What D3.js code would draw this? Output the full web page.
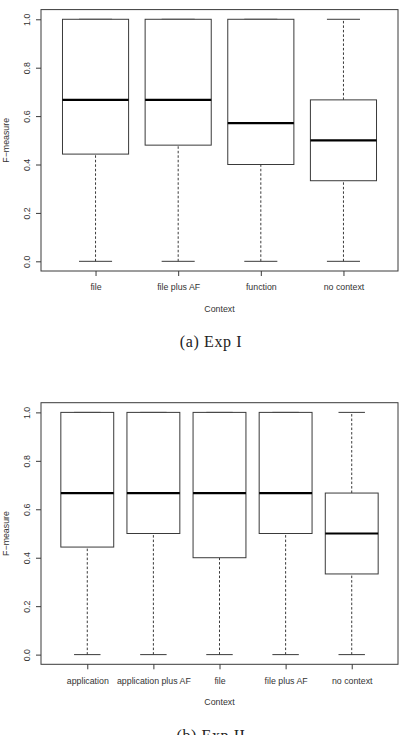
<!DOCTYPE html>
<html lang="en">
  <head>
    <meta charset="utf-8">
    <style>
      body { margin: 0; background: #fff; }
      svg { display: block; }
      .frame { fill: none; stroke: #3a3a3a; stroke-width: 1; }
      .box { fill: #fff; stroke: #3a3a3a; stroke-width: 1; }
      .median { stroke: #000; stroke-width: 2.2; }
      .whisker { stroke: #3a3a3a; stroke-width: 1; stroke-dasharray: 2.5,2; }
      .staple { stroke: #3a3a3a; stroke-width: 1; }
      .axis { color: #3a3a3a; }
      .axis path { display: none; }
      .axis text { font-family: "Liberation Sans", Arial, sans-serif; font-size: 8.8px; fill: #333; }
      .lab { font-family: "Liberation Sans", Arial, sans-serif; font-size: 8.8px; fill: #333; }
      .caption { font-family: "Liberation Serif", "DejaVu Serif", serif; font-size: 16px; letter-spacing: 0.6px; fill: #222; }
    </style>
  </head>
  <body>
  <script src="https://d3js.org/d3.v7.min.js"></script>
  <script>
  var width = 402;
  var height = 735;

  // Exp I
  var exp1Contexts = ["file", "file plus AF", "function", "no context"];
  var exp1Min    = [0, 0, 0, 0];
  var exp1Lower  = [0.443, 0.48, 0.40, 0.333];
  var exp1Median = [0.667, 0.667, 0.571, 0.5];
  var exp1Upper  = [1, 1, 1, 0.667];
  var exp1Max    = [1, 1, 1, 1];

  // Exp II
  var exp2Contexts = ["application", "application plus AF", "file", "file plus AF", "no context"];
  var exp2Min    = [0, 0, 0, 0, 0];
  var exp2Lower  = [0.444, 0.5, 0.40, 0.5, 0.333];
  var exp2Median = [0.667, 0.667, 0.667, 0.667, 0.5];
  var exp2Upper  = [1, 1, 1, 1, 0.667];
  var exp2Max    = [1, 1, 1, 1, 1];

  var yTicks = [0, 0.2, 0.4, 0.6, 0.8, 1.0];

  var svg = d3.select("body")
    .append("svg")
    .attr("width", width)
    .attr("height", height);

  function boxplot(top, bottom, contexts, mins, lowers, medians, uppers, maxs, caption, captionY) {
    var n = contexts.length;
    var left = 41, right = 398;
    var ext = n * 0.04;
    var x = d3.scaleLinear()
      .domain([0.5 - ext, n + 0.5 + ext])
      .range([left, right]);
    var y = d3.scaleLinear()
      .domain([-0.04, 1.04])
      .range([bottom, top]);

    var boxW = (x(1) - x(0)) * 0.8;
    var g = svg.append("g");

    var rows = contexts.map(function(c, i) {
      return { c: c, i: i + 1, min: mins[i], lo: lowers[i], med: medians[i], up: uppers[i], max: maxs[i] };
    });

    // whiskers
    g.selectAll(".wlo").data(rows).enter().append("line")
      .attr("class", "whisker")
      .attr("x1", function(d) { return x(d.i); })
      .attr("x2", function(d) { return x(d.i); })
      .attr("y1", function(d) { return y(d.min); })
      .attr("y2", function(d) { return y(d.lo); });
    g.selectAll(".whi").data(rows.filter(function(d) { return d.max > d.up; })).enter().append("line")
      .attr("class", "whisker")
      .attr("x1", function(d) { return x(d.i); })
      .attr("x2", function(d) { return x(d.i); })
      .attr("y1", function(d) { return y(d.up); })
      .attr("y2", function(d) { return y(d.max); });

    // staples
    ["min", "max"].forEach(function(k) {
      g.selectAll(".st-" + k).data(rows).enter().append("line")
        .attr("class", "staple")
        .attr("x1", function(d) { return x(d.i) - boxW / 4; })
        .attr("x2", function(d) { return x(d.i) + boxW / 4; })
        .attr("y1", function(d) { return y(d[k]); })
        .attr("y2", function(d) { return y(d[k]); });
    });

    // boxes
    g.selectAll(".box").data(rows).enter().append("rect")
      .attr("class", "box")
      .attr("x", function(d) { return x(d.i) - boxW / 2; })
      .attr("width", boxW)
      .attr("y", function(d) { return y(d.up); })
      .attr("height", function(d) { return y(d.lo) - y(d.up); });

    g.selectAll(".median").data(rows).enter().append("line")
      .attr("class", "median")
      .attr("x1", function(d) { return x(d.i) - boxW / 2; })
      .attr("x2", function(d) { return x(d.i) + boxW / 2; })
      .attr("y1", function(d) { return y(d.med); })
      .attr("y2", function(d) { return y(d.med); });

    // frame
    g.append("rect")
      .attr("class", "frame")
      .attr("x", left).attr("y", top)
      .attr("width", right - left).attr("height", bottom - top);

    // y axis, labels turned like R's las=0
    var ya = g.append("g")
      .attr("class", "axis")
      .attr("transform", "translate(" + left + ",0)")
      .call(d3.axisLeft(y).tickValues(yTicks).tickSize(5).tickPadding(0).tickFormat(d3.format(".1f")));
    ya.selectAll("text")
      .attr("x", null).attr("dy", null).attr("y", null)
      .attr("text-anchor", "middle")
      .attr("transform", "translate(-11,0) rotate(-90)");

    // x axis
    g.append("g")
      .attr("class", "axis")
      .attr("transform", "translate(0," + bottom + ")")
      .call(d3.axisBottom(x).tickValues(d3.range(1, n + 1)).tickSize(5).tickPadding(8)
        .tickFormat(function(d) { return contexts[d - 1]; }));

    g.append("text")
      .attr("class", "lab")
      .attr("x", (left + right) / 2)
      .attr("y", bottom + 41)
      .attr("text-anchor", "middle")
      .text("Context");

    g.append("text")
      .attr("class", "lab")
      .attr("transform", "translate(9," + (top + bottom) / 2 + ") rotate(-90)")
      .attr("text-anchor", "middle")
      .text("F\u2212measure");

    g.append("text")
      .attr("class", "caption")
      .attr("x", 211)
      .attr("y", captionY)
      .attr("text-anchor", "middle")
      .text(caption);
  }

  boxplot(9.6, 271, exp1Contexts, exp1Min, exp1Lower, exp1Median, exp1Upper, exp1Max, "(a) Exp I", 347);
  boxplot(402.7, 664.3, exp2Contexts, exp2Min, exp2Lower, exp2Median, exp2Upper, exp2Max, "(b) Exp II", 741);
  </script>
  </body>
</html>
